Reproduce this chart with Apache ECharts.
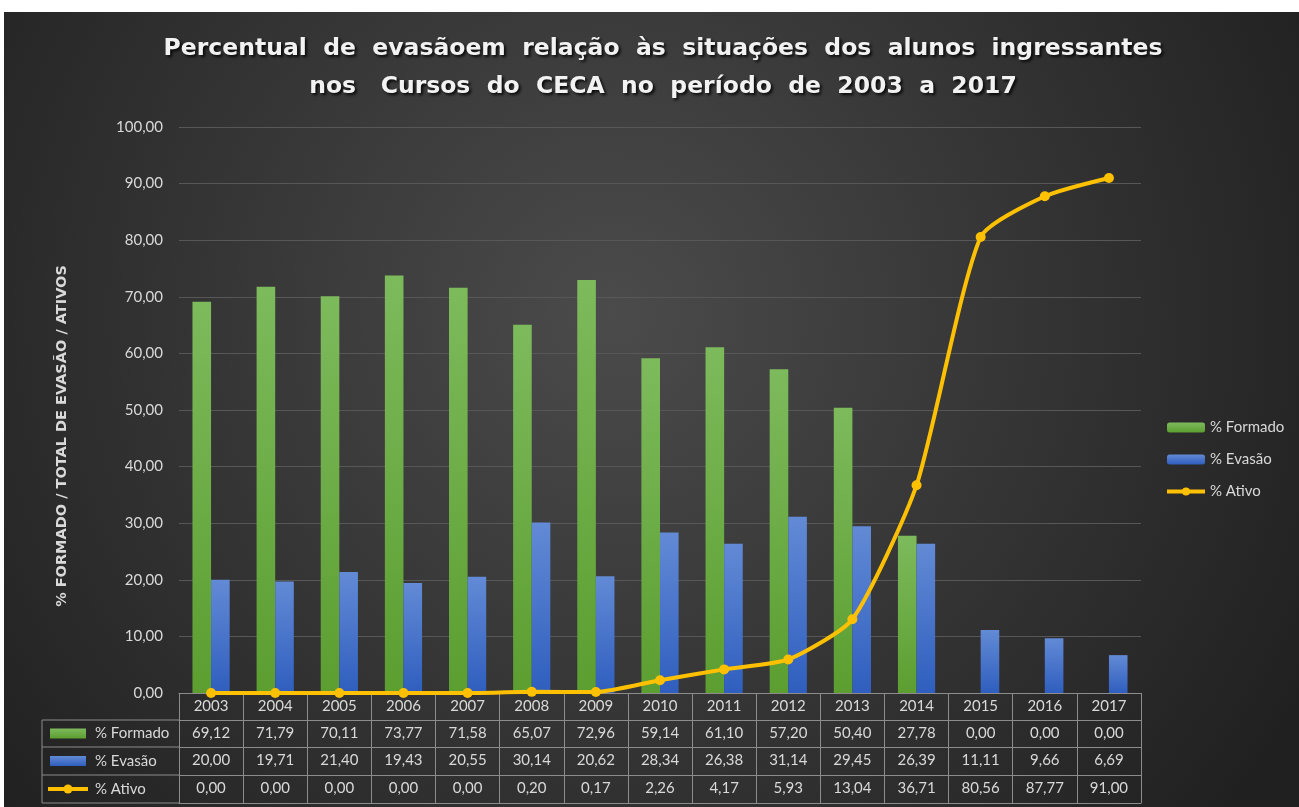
<!DOCTYPE html>
<html><head><meta charset="utf-8">
<script src="https://cdn.jsdelivr.net/npm/echarts@6/dist/echarts.min.js"></script>
<style>html,body{margin:0;padding:0;background:#fff;overflow:hidden}
#c{position:absolute;left:4px;top:12px;width:1295px;height:795px}</style>
</head><body><div id="c"></div>
<script>
const years = ['2003','2004','2005','2006','2007','2008','2009','2010','2011','2012','2013','2014','2015','2016','2017'];
const seriesNames = ['% Formado','% Evasão','% Ativo'];
const formado = [69.12,71.79,70.11,73.77,71.58,65.07,72.96,59.14,61.10,57.20,50.40,27.78,0.00,0.00,0.00];
const evasao = [20.00,19.71,21.40,19.43,20.55,30.14,20.62,28.34,26.38,31.14,29.45,26.39,11.11,9.66,6.69];
const ativo = [0.00,0.00,0.00,0.00,0.00,0.20,0.17,2.26,4.17,5.93,13.04,36.71,80.56,87.77,91.00];
const titleLines = ['Percentual  de  evasãoem  relação  às  situações  dos  alunos  ingressantes','nos   Cursos  do  CECA  no  período  de  2003  a  2017'];
const yAxisTitle = '% FORMADO / TOTAL DE EVASÃO / ATIVOS';

const W = 1295, H = 795;
const G = {left: 175, right: 158, top: 115, bottom: 114};
const rowOff = [27, 54, 82, 110];
const axisY = H - G.bottom;
const txt = '#d9d9d9', border = '#8c8c8c', font = 'Lato';
const fmt = v => v.toFixed(2).replace('.', ',');
const rows = [formado, evasao, ativo];
const green = new echarts.graphic.LinearGradient(0,0,0,1,[{offset:0,color:'#7dba5c'},{offset:1,color:'#5c9e30'}]);
const blue = new echarts.graphic.LinearGradient(0,0,0,1,[{offset:0,color:'#628ad5'},{offset:1,color:'#2f5ebe'}]);
const swatchColors = [green, blue, '#ffc000'];

const xAxes = [{
  type: 'category', data: years, position: 'bottom',
  axisLine: {lineStyle: {color: border}},
  axisTick: {show: true, length: rowOff[3], lineStyle: {color: border}},
  axisLabel: {color: txt, fontSize: 15, margin: 6, interval: 0, fontFamily: font}
}];
rows.forEach((r, i) => xAxes.push({
  type: 'category', data: years, position: 'bottom', offset: rowOff[i],
  axisLine: {show: true, lineStyle: {color: border}}, axisTick: {show: false},
  axisLabel: {interval: 0, margin: 6, color: txt, fontSize: 15, fontFamily: font, formatter: (v, idx) => fmt(r[idx])}
}));
xAxes.push({type: 'category', data: years, position: 'bottom', offset: rowOff[3],
  axisLine: {show: true, lineStyle: {color: border}}, axisTick: {show: false}, axisLabel: {show: false}});

const graphics = [];
const hx0 = 38, hx1 = G.left;
const lineYs = [axisY + rowOff[0], axisY + rowOff[1], axisY + rowOff[2], axisY + rowOff[3]];
lineYs.forEach(y => graphics.push({type: 'line', shape: {x1: hx0, y1: y, x2: hx1, y2: y}, style: {stroke: border, lineWidth: 1}}));
graphics.push({type: 'line', shape: {x1: hx0, y1: lineYs[0], x2: hx0, y2: lineYs[3]}, style: {stroke: border, lineWidth: 1}});
seriesNames.forEach((n, i) => {
  const cy = (lineYs[i] + lineYs[i + 1]) / 2;
  if (i < 2) {
    graphics.push({type: 'rect', shape: {x: 46, y: cy - 5, width: 36, height: 10}, style: {fill: swatchColors[i]}});
  } else {
    graphics.push({type: 'line', shape: {x1: 44, y1: cy, x2: 84, y2: cy}, style: {stroke: '#ffc000', lineWidth: 4}});
    graphics.push({type: 'circle', shape: {cx: 64, cy: cy, r: 4.5}, style: {fill: '#ffc000'}});
  }
  graphics.push({type: 'text', x: 91, y: cy, style: {text: n, fill: txt, fontSize: 15, fontFamily: font, align: 'left', verticalAlign: 'middle'}});
});
graphics.push({type: 'text', x: 58, y: 424, rotation: Math.PI / 2,
  style: {text: yAxisTitle, fill: txt, fontSize: 14.5, fontWeight: 'bold', fontFamily: 'DejaVu Sans', align: 'center', verticalAlign: 'middle'}});

const chart = echarts.init(document.getElementById('c'));
chart.setOption({
  backgroundColor: {type: 'radial', x: 0.47, y: 0.38, r: 1.0, colorStops: [{offset: 0, color: '#4b4b4b'}, {offset: 1, color: '#202020'}]},
  title: {
    text: titleLines.join('\n'), left: 654, top: 13, textAlign: 'center',
    textStyle: {color: '#f2f2f2', fontSize: 23.5, fontWeight: 'bold', fontFamily: 'DejaVu Sans', lineHeight: 38,
      textShadowColor: 'rgba(0,0,0,0.85)', textShadowBlur: 3, textShadowOffsetX: 2, textShadowOffsetY: 2}
  },
  legend: {
    orient: 'vertical', left: 1156, top: 403, itemWidth: 38, itemHeight: 10, itemGap: 17,
    textStyle: {color: txt, fontSize: 15, fontFamily: font},
    lineStyle: {width: 4},
    data: seriesNames
  },
  grid: {left: G.left, right: G.right, top: G.top, bottom: G.bottom, containLabel: false},
  xAxis: xAxes,
  yAxis: {
    type: 'value', min: 0, max: 100, interval: 10,
    axisLine: {show: false}, axisTick: {show: false},
    splitLine: {lineStyle: {color: '#575757', width: 1}},
    axisLabel: {color: txt, fontSize: 15, margin: 16, fontFamily: font, formatter: v => fmt(v)}
  },
  graphic: graphics,
  series: [
    {name: seriesNames[0], type: 'bar', data: formado, barGap: '0%', barCategoryGap: '42%',
      itemStyle: {color: green}},
    {name: seriesNames[1], type: 'bar', data: evasao,
      itemStyle: {color: blue}},
    {name: seriesNames[2], type: 'line', data: ativo, smooth: 0.2, symbol: 'circle', symbolSize: 10,
      lineStyle: {color: '#ffc000', width: 4}, itemStyle: {color: '#ffc000'}, z: 5}
  ]
});
</script></body></html>
